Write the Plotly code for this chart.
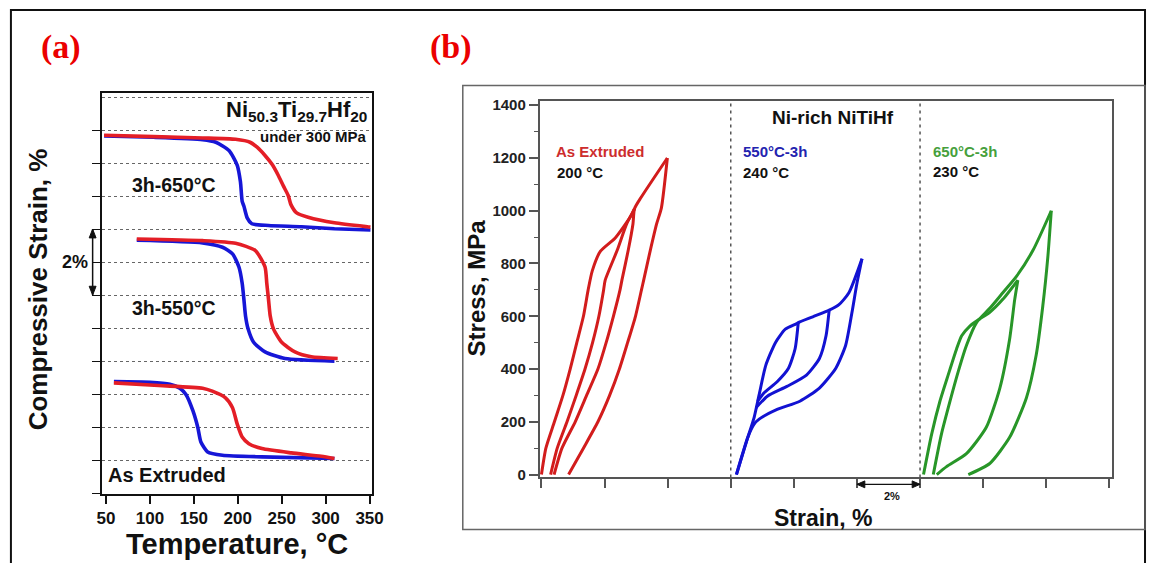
import plotly.graph_objects as go

W, H = 1158, 563
FONT = "Liberation Sans, Arial, sans-serif"
SERIF = "Liberation Serif, Times New Roman, serif"

# ---------------- Panel (a): strain vs temperature ----------------
a650_red_T = [47.8, 104, 160, 197.5, 214, 222, 231, 239, 246, 252, 257.5, 260.5, 267, 280, 310, 347.4, 351]
a650_red_S = [10.84, 10.80, 10.76, 10.72, 10.63, 10.48, 10.23, 9.96, 9.63, 9.30, 9.01, 8.74, 8.49, 8.36, 8.19, 8.07, 8.06]
a650_blue_T = [47.8, 104, 160, 175, 190, 199.4, 203, 205, 207, 210.7, 216, 235, 272.5, 310, 351]
a650_blue_S = [10.82, 10.78, 10.71, 10.63, 10.38, 9.93, 9.43, 8.84, 8.69, 8.34, 8.16, 8.11, 8.07, 8.01, 7.97]

a550_red_T = [85, 160, 197.5, 220, 231, 233, 235, 236.9, 240.7, 250, 265, 283.7, 313.7]
a550_red_S = [7.70, 7.65, 7.57, 7.35, 6.85, 6.36, 5.86, 5.37, 4.97, 4.57, 4.28, 4.13, 4.08]
a550_blue_T = [85, 160, 182.6, 194, 201.3, 205, 207, 208.8, 211.8, 218, 231, 253.7, 310]
a550_blue_S = [7.66, 7.58, 7.45, 7.25, 6.85, 6.36, 5.86, 5.37, 4.97, 4.57, 4.28, 4.08, 4.00]

aext_red_T = [59, 110, 160, 171, 186, 194, 199.4, 205, 212.6, 227.5, 261, 295, 310]
aext_red_S = [3.34, 3.26, 3.18, 3.09, 2.89, 2.59, 2.09, 1.70, 1.50, 1.35, 1.22, 1.12, 1.05]
aext_blue_T = [59, 100, 122.7, 134, 141, 149, 154.5, 158, 165.7, 182.6, 227.5, 310]
aext_blue_S = [3.38, 3.36, 3.30, 3.18, 2.99, 2.49, 1.99, 1.55, 1.25, 1.15, 1.10, 1.05]

a_xticks = [50, 100, 150, 200, 250, 300, 350]

# ---------------- Panel (b): stress vs strain ----------------
red_load1_strain = [0.0, 0.14, 0.41, 0.68, 0.91, 1.12, 1.33, 1.48, 1.61, 1.87, 2.33, 2.85, 2.95]
red_load1_stress = [0, 100, 200, 300, 400, 500, 600, 700, 772, 847, 896, 983, 1008]
red_unload1_strain = [2.95, 2.70, 2.40, 2.02, 1.97, 1.82, 1.62, 1.38, 1.10, 0.81, 0.50, 0.29]
red_unload1_stress = [1008, 950, 850, 737, 700, 600, 500, 400, 300, 200, 100, 0]
red_load2_strain = [0.40, 0.65, 1.07, 1.43, 1.79, 2.05, 2.28, 2.49, 2.55, 2.75, 2.90, 2.95, 3.16, 3.99]
red_load2_stress = [0, 100, 200, 300, 400, 500, 600, 700, 737, 850, 950, 1008, 1051, 1200]
red_unload2_strain = [3.99, 3.80, 3.65, 3.45, 3.24, 3.17, 2.98, 2.73, 2.47, 2.16, 1.79, 1.33, 0.86]
red_unload2_stress = [1200, 1010, 950, 850, 737, 700, 600, 500, 400, 300, 200, 100, 0]

blue_load_strain = [6.18, 6.54, 6.74, 6.90, 7.11, 7.42, 7.73, 8.09, 8.14, 8.60, 9.12, 9.43, 9.74, 10.16]
blue_load_stress = [0, 141, 216, 303, 414, 501, 551, 572, 576, 598, 623, 644, 688, 818]
blue_unload1_strain = [8.14, 8.04, 7.83, 7.47, 7.05, 6.85]
blue_unload1_stress = [576, 477, 403, 352, 309, 278]
blue_unload2_strain = [9.12, 9.02, 8.81, 8.40, 7.78, 7.16, 6.80]
blue_unload2_stress = [623, 526, 440, 377, 334, 297, 253]
blue_unload3_strain = [10.16, 10.00, 9.84, 9.64, 9.33, 8.81, 8.19, 7.47, 6.90, 6.74, 6.54, 6.18]
blue_unload3_stress = [818, 725, 613, 489, 403, 328, 278, 247, 210, 191, 141, 0]

green_load1_strain = [12.11, 12.37, 12.63, 12.89, 13.16, 13.32, 13.58, 13.89, 14.21, 14.63, 15.10]
green_load1_stress = [0, 154, 278, 377, 477, 526, 563, 590, 615, 665, 737]
green_unload1_strain = [15.10, 15.00, 14.84, 14.53, 14.10, 13.47, 12.84, 12.53]
green_unload1_stress = [737, 663, 514, 328, 179, 79, 30, 0]
green_load2_strain = [12.42, 12.68, 12.95, 13.21, 13.47, 13.79, 14.21, 14.63, 15.05, 15.58, 16.16]
green_load2_stress = [0, 154, 278, 390, 489, 576, 630, 690, 750, 850, 1000]
green_unload2_strain = [16.16, 16.05, 15.89, 15.68, 15.37, 14.84, 14.21, 13.53]
green_unload2_stress = [1000, 824, 638, 452, 290, 141, 42, 0]

b_xticks = [0, 2, 4, 6, 8, 10, 12, 14, 16, 18]
b_yticks = [0, 200, 400, 600, 800, 1000, 1200, 1400]
b_dividers = [6, 12]

RED_A, BLUE_A = "rgb(228,30,38)", "rgb(22,22,215)"
RED_B, BLUE_B, GREEN_B = "rgb(210,28,28)", "rgb(18,18,210)", "rgb(40,150,40)"

fig = go.Figure()


def add(x, y, color, width, xa, ya, shape="linear"):
    fig.add_trace(go.Scatter(x=x, y=y, mode="lines", xaxis=xa, yaxis=ya,
                             line=dict(color=color, width=width, shape=shape, smoothing=0.6),
                             showlegend=False, hoverinfo="skip"))


for T, S, c in [(a650_blue_T, a650_blue_S, BLUE_A), (a650_red_T, a650_red_S, RED_A),
                (a550_blue_T, a550_blue_S, BLUE_A), (a550_red_T, a550_red_S, RED_A),
                (aext_blue_T, aext_blue_S, BLUE_A), (aext_red_T, aext_red_S, RED_A)]:
    add(T, S, c, 3.6, "x", "y", "spline")

for xs, ys, c in [(red_load1_strain, red_load1_stress, RED_B), (red_unload1_strain, red_unload1_stress, RED_B),
                  (red_load2_strain, red_load2_stress, RED_B), (red_unload2_strain, red_unload2_stress, RED_B),
                  (blue_load_strain, blue_load_stress, BLUE_B), (blue_unload1_strain, blue_unload1_stress, BLUE_B),
                  (blue_unload2_strain, blue_unload2_stress, BLUE_B), (blue_unload3_strain, blue_unload3_stress, BLUE_B),
                  (green_load1_strain, green_load1_stress, GREEN_B), (green_unload1_strain, green_unload1_stress, GREEN_B),
                  (green_load2_strain, green_load2_stress, GREEN_B), (green_unload2_strain, green_unload2_stress, GREEN_B)]:
    add(xs, ys, c, 3, "x2", "y2", "spline")


def px(x):
    return x / W


def py(y):
    return 1 - y / H


fig.update_layout(
    width=W, height=H, margin=dict(l=0, r=0, t=0, b=0),
    paper_bgcolor="white", plot_bgcolor="white",
    font=dict(family=FONT, color="#111"),
    xaxis=dict(domain=[px(98), px(372)], range=[46, 353], anchor="y",
               tickmode="array", tickvals=a_xticks, ticks="outside", ticklen=8, tickwidth=1.5,
               tickcolor="#111", showline=True, linecolor="#111", linewidth=1.5, mirror=True,
               showgrid=False, zeroline=False,
               tickfont=dict(family=FONT, size=17, weight="bold", color="#111")),
    yaxis=dict(domain=[py(498), py(90)], range=[-0.03, 12.11], anchor="x",
               tickmode="array", tickvals=list(range(0, 12)), ticks="outside", ticklen=9, tickwidth=1.3,
               tickcolor="#111", showticklabels=False, showline=True, linecolor="#111", linewidth=1.5,
               mirror=True, zeroline=False, showgrid=True, gridcolor="#666", griddash="dot", gridwidth=1,
               minor=dict(tickmode="array", tickvals=[12], showgrid=True, gridcolor="#666",
                          griddash="dot", gridwidth=1, ticks="")),
    xaxis2=dict(domain=[px(542), px(1123)], range=[-0.06, 18.07], anchor="y2",
                tickmode="array", tickvals=b_xticks, ticks="outside", ticklen=9, tickwidth=1.5,
                tickcolor="#555", showticklabels=False, showline=True, linecolor="#555", linewidth=1.5,
                mirror=True, showgrid=False, zeroline=False),
    yaxis2=dict(domain=[py(481), py(98)], range=[-11, 1415], anchor="x2",
                tickmode="array", tickvals=b_yticks, ticks="outside", ticklen=9, tickwidth=1.5,
                tickcolor="#555", showline=True, linecolor="#555", linewidth=1.5, mirror=True,
                showgrid=False, zeroline=False,
                tickfont=dict(family=FONT, size=15, weight="bold", color="#222"),
                minor=dict(dtick=100, ticks="outside", ticklen=4, tickcolor="#555", tickwidth=1.3)),
)

# Frames
fig.add_shape(type="rect", xref="paper", yref="paper", x0=px(5), x1=px(1157), y0=py(600), y1=py(5),
              line=dict(color="#111", width=2), layer="below")
fig.add_shape(type="rect", xref="paper", yref="paper", x0=px(464), x1=px(1157), y0=py(534), y1=py(82),
              line=dict(color="#666", width=1.5), layer="below")
for d in b_dividers:
    fig.add_shape(type="line", xref="x2", yref="y2 domain", x0=d, x1=d, y0=0, y1=1,
                  line=dict(color="#555", width=1.5, dash="3px,4px"))

# Double-headed "2%" scale arrows (line + two filled heads)
ax_x = px(88)
hw = 3.5 / W
fig.add_shape(type="line", xref="paper", yref="y", x0=ax_x, x1=ax_x, y0=6, y1=8,
              line=dict(color="#111", width=1.5))
dh = 9 / 33.6
fig.add_shape(type="path", xref="paper", yref="y", fillcolor="#111", line=dict(color="#111", width=1),
              path=f"M {ax_x} 8 L {ax_x - hw} {8 - dh} L {ax_x + hw} {8 - dh} Z")
fig.add_shape(type="path", xref="paper", yref="y", fillcolor="#111", line=dict(color="#111", width=1),
              path=f"M {ax_x} 6 L {ax_x - hw} {6 + dh} L {ax_x + hw} {6 + dh} Z")

by = py(488)
dwx = 8 / 32.05
dhy = 3.5 / H
fig.add_shape(type="line", xref="x2", yref="paper", x0=10, x1=12, y0=by, y1=by,
              line=dict(color="#111", width=1.3))
fig.add_shape(type="path", xref="x2", yref="paper", fillcolor="#111", line=dict(color="#111", width=1),
              path=f"M 10 {by} L {10 + dwx} {by - dhy} L {10 + dwx} {by + dhy} Z")
fig.add_shape(type="path", xref="x2", yref="paper", fillcolor="#111", line=dict(color="#111", width=1),
              path=f"M 12 {by} L {12 - dwx} {by - dhy} L {12 - dwx} {by + dhy} Z")


def ann(text, x, y, size, color="#111", xanchor="center", yanchor="middle", angle=0, family=FONT):
    fig.add_annotation(text=text, x=px(x), y=py(y), xref="paper", yref="paper", showarrow=False,
                       xanchor=xanchor, yanchor=yanchor, textangle=angle,
                       font=dict(family=family, size=size, color=color))


# Panel (a) text
ann("<b>(a)</b>", 56, 43, 34, "rgb(235,0,0)", family=SERIF)
ann("<b>(b)</b>", 452, 43, 34, "rgb(235,0,0)", family=SERIF)
ann("<b>Compressive Strain, %</b>", 32, 290, 26, angle=-90)
ann("<b>Temperature, °C</b>", 235, 549, 29)
ann("<b>Ni<sub>50.3</sub>Ti<sub>29.7</sub>Hf<sub>20</sub></b>", 369, 108, 22, xanchor="right")
ann("<b>under 300 MPa</b>", 369, 134, 15, xanchor="right")
ann("<b>3h-650°C</b>", 171, 183, 19.5)
ann("<b>3h-550°C</b>", 171, 308, 19.5)
ann("<b>As Extruded</b>", 164, 478, 20)
ann("<b>2%</b>", 70, 262, 18)

# Panel (b) text
ann("<b>Stress, MPa</b>", 478, 288, 24, angle=-90)
ann("<b>Strain, %</b>", 830, 522, 23)
ann("<b>Ni-rich NiTiHf</b>", 776, 115, 19, xanchor="left")
ann("<b>As Extruded</b>", 557, 149, 15, "rgb(205,45,45)", xanchor="left")
ann("<b>200 °C</b>", 558, 171, 15, xanchor="left")
ann("<b>550°C-3h</b>", 747, 149, 15, "rgb(35,35,175)", xanchor="left")
ann("<b>240 °C</b>", 747, 171, 15, xanchor="left")
ann("<b>650°C-3h</b>", 940, 149, 15, "rgb(70,160,60)", xanchor="left")
ann("<b>230 °C</b>", 940, 170, 15, xanchor="left")
ann("<b>2%</b>", 900, 500, 11)

fig.write_html("out.html")
